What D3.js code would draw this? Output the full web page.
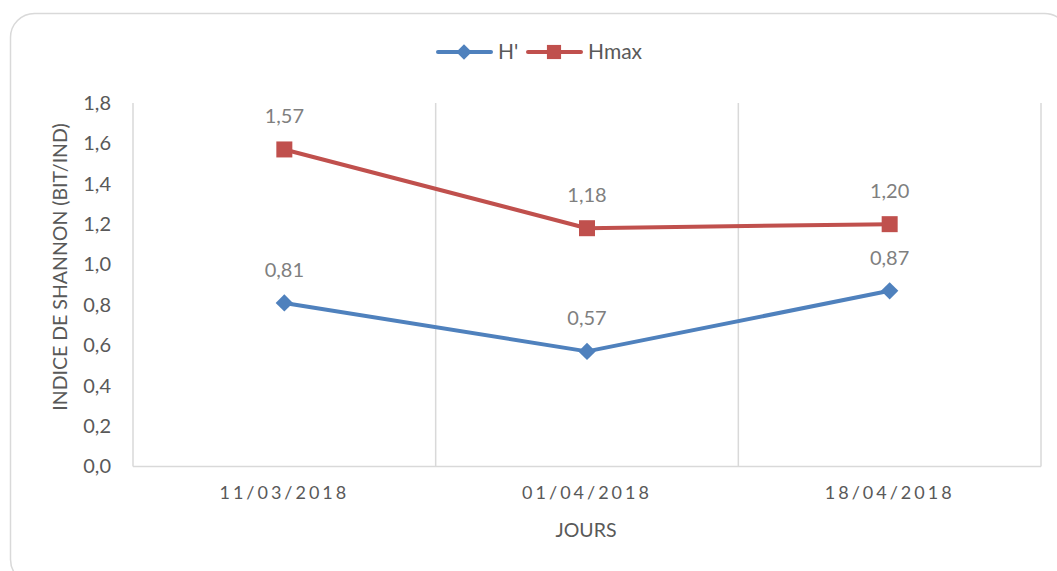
<!DOCTYPE html>
<html>
<head>
<meta charset="utf-8">
<script src="https://cdn.jsdelivr.net/npm/d3@7"></script>
<style>
  body { margin: 0; background: #fff; }
  text { font-family: Lato, "Open Sans", sans-serif; fill: #595959; }
</style>
</head>
<body>
<div id="chart"></div>
<script>
var width = 1057, height = 571;

// data
var categories = ["11/03/2018", "01/04/2018", "18/04/2018"];
var hPrime = [0.81, 0.57, 0.87];
var hMax = [1.57, 1.18, 1.20];
var yTicks = [0, 0.2, 0.4, 0.6, 0.8, 1.0, 1.2, 1.4, 1.6, 1.8];

var series = [
  {name: "H'", values: hPrime, color: "#4f81bd", diamond: true},
  {name: "Hmax", values: hMax, color: "#c0504d", diamond: false}
];

var margin = {left: 133, right: 1041, top: 103, bottom: 466.5};

var svg = d3.select("#chart").append("svg")
    .attr("width", width)
    .attr("height", height);

// outer frame
svg.append("rect")
    .attr("x", 10.5).attr("y", 13.5)
    .attr("width", 1058).attr("height", 570)
    .attr("rx", 24)
    .attr("fill", "none")
    .attr("stroke", "#d9d9d9")
    .attr("stroke-width", 1.5);

var x = d3.scaleBand()
    .domain(categories)
    .range([margin.left, margin.right]);

var y = d3.scaleLinear()
    .domain([0, 1.8])
    .range([margin.bottom, margin.top]);

var fmt = function(d) { return d3.format(".1f")(d).replace(".", ","); };

// vertical gridlines at category boundaries
var bounds = categories.map(function(c) { return x(c); }).concat([margin.right]);
svg.append("g")
    .selectAll("line")
    .data(bounds)
    .enter()
    .append("line")
    .attr("x1", function(d) { return d; })
    .attr("x2", function(d) { return d; })
    .attr("y1", margin.top)
    .attr("y2", margin.bottom)
    .attr("stroke", "#d9d9d9")
    .attr("stroke-width", 1.5);

// x axis line
svg.append("line")
    .attr("x1", margin.left).attr("x2", margin.right)
    .attr("y1", margin.bottom).attr("y2", margin.bottom)
    .attr("stroke", "#d9d9d9")
    .attr("stroke-width", 1.5);

// y axis labels
var yAxis = svg.append("g")
    .attr("transform", "translate(" + (margin.left - 22) + ",0)")
    .call(d3.axisLeft(y).tickValues(yTicks).tickFormat(fmt).tickSize(0).tickPadding(0));
yAxis.select(".domain").remove();
yAxis.selectAll("text")
    .style("font-family", "Lato, 'Open Sans', sans-serif")
    .style("font-size", "20px")
    .attr("fill", "#595959");

// x axis labels
var xAxis = svg.append("g")
    .attr("transform", "translate(0," + margin.bottom + ")")
    .call(d3.axisBottom(x).tickSize(0).tickPadding(20));
xAxis.select(".domain").remove();
xAxis.selectAll("text")
    .style("font-family", "Lato, 'Open Sans', sans-serif")
    .style("font-size", "18px")
    .style("letter-spacing", "3px")
    .attr("fill", "#595959");

// axis titles
svg.append("text")
    .attr("x", (margin.left + margin.right) / 2 - 1)
    .attr("y", 537)
    .attr("text-anchor", "middle")
    .style("font-size", "19.5px")
    .text("JOURS");

svg.append("text")
    .attr("transform", "translate(67,267) rotate(-90)")
    .attr("text-anchor", "middle")
    .style("font-size", "19.5px")
    .text("INDICE DE SHANNON (BIT/IND)");

var line = d3.line()
    .x(function(d, i) { return x(categories[i]) + x.bandwidth() / 2; })
    .y(function(d) { return y(d); });

var sq = d3.symbol().type(d3.symbolSquare);

series.forEach(function(s) {
  svg.append("path")
      .datum(s.values)
      .attr("d", line)
      .attr("fill", "none")
      .attr("stroke", s.color)
      .attr("stroke-width", 4)
      .attr("stroke-linejoin", "round");

  svg.append("g")
      .selectAll("path")
      .data(s.values)
      .enter()
      .append("path")
      .attr("d", sq.size(s.diamond ? 150 : 256)())
      .attr("transform", function(d, i) {
        return "translate(" + (x(categories[i]) + x.bandwidth() / 2) + "," + y(d) + ")" +
          (s.diamond ? " rotate(45)" : "");
      })
      .attr("fill", s.color);

  // data labels
  svg.append("g")
      .selectAll("text")
      .data(s.values)
      .enter()
      .append("text")
      .attr("x", function(d, i) { return x(categories[i]) + x.bandwidth() / 2; })
      .attr("y", function(d) { return y(d) - 26; })
      .attr("text-anchor", "middle")
      .style("font-size", "20px")
      .style("fill", "#7f7f7f")
      .text(function(d) { return d3.format(".2f")(d).replace(".", ","); });
});

// legend
var legend = svg.append("g").attr("transform", "translate(0,52)");
var legendX = [438, 528];
series.forEach(function(s, i) {
  var g = legend.append("g").attr("transform", "translate(" + legendX[i] + ",0)");
  g.append("line")
      .attr("x1", 0).attr("x2", 53)
      .attr("stroke", s.color)
      .attr("stroke-width", 4)
      .attr("stroke-linecap", "round");
  g.append("path")
      .attr("d", sq.size(s.diamond ? 120 : 200)())
      .attr("transform", "translate(26,0)" + (s.diamond ? " rotate(45)" : ""))
      .attr("fill", s.color);
  g.append("text")
      .attr("x", 60)
      .attr("y", 0)
      .attr("dy", "0.35em")
      .style("font-size", "21px")
      .text(s.name);
});
</script>
</body>
</html>
